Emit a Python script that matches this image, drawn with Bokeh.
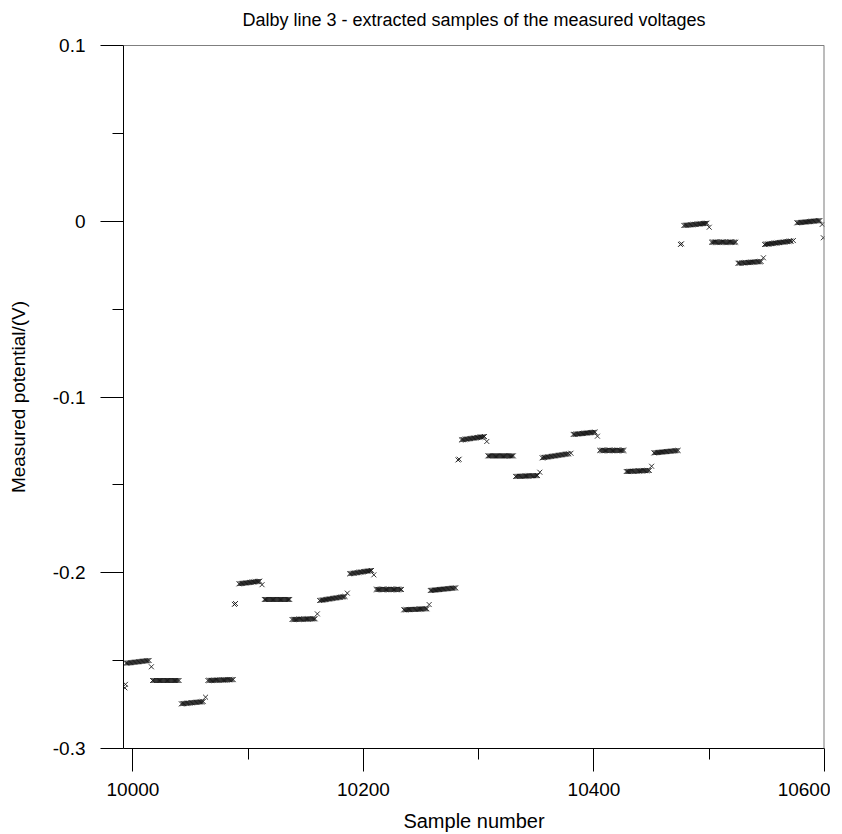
from bokeh.plotting import figure
from bokeh.models import FixedTicker, Range1d, Span, ColumnDataSource, Title
from bokeh.embed import file_html
from bokeh.resources import INLINE

# Plateau segments: first sample, last sample, level at start, level at end (V)
seg_start = [9994, 10017, 10042, 10065,
             10092, 10114, 10138, 10162, 10188, 10211, 10235, 10258,
             10285, 10308, 10332, 10355, 10382, 10405, 10428, 10452,
             10478, 10502, 10525, 10548, 10576]
seg_end = [10014, 10040, 10061, 10087,
           10110, 10136, 10158, 10184, 10207, 10233, 10255, 10280,
           10305, 10330, 10351, 10378, 10401, 10426, 10448, 10473,
           10498, 10523, 10545, 10571, 10596]
level_start = [-0.2515, -0.2613, -0.2746, -0.2613,
               -0.2063, -0.2152, -0.2266, -0.2158, -0.2006, -0.2095, -0.2211, -0.2101,
               -0.1244, -0.1335, -0.1452, -0.1346, -0.1213, -0.1304, -0.1424, -0.1318,
               -0.0024, -0.0119, -0.0239, -0.0132, -0.0009]
level_end = [-0.2499, -0.2613, -0.2733, -0.2608,
             -0.2048, -0.2152, -0.2262, -0.2135, -0.1987, -0.2095, -0.2205, -0.2086,
             -0.1225, -0.1335, -0.1447, -0.1323, -0.1200, -0.1304, -0.1418, -0.1304,
             -0.0011, -0.0119, -0.0229, -0.0113, 0.0004]

# Isolated samples (transition samples and single points between groups)
single_x = [9993, 9993.5, 10016, 10063,
            10088, 10089, 10112, 10160, 10186, 10209, 10257,
            10282, 10283, 10307, 10353, 10380, 10403, 10450,
            10475, 10476, 10500, 10547, 10573, 10598, 10599]
single_y = [-0.2655, -0.2635, -0.2535, -0.2708,
            -0.2180, -0.2175, -0.2068, -0.2234, -0.2116, -0.2012, -0.2181,
            -0.1358, -0.1354, -0.1253, -0.1428, -0.1320, -0.1223, -0.1394,
            -0.0132, -0.0128, -0.0034, -0.0208, -0.0110, -0.0018, -0.0094]

x_ticks = [10000, 10200, 10400, 10600]
x_minor = [10100, 10300, 10500]
y_ticks = [-0.3, -0.2, -0.1, 0.0, 0.1]
y_minor = [-0.25, -0.15, -0.05, 0.05]
y_labels = ["-0.3", "-0.2", "-0.1", "0", "0.1"]

xs, ys = [], []
for s0, s1, v0, v1 in zip(seg_start, seg_end, level_start, level_end):
    n = s1 - s0
    for k in range(n + 1):
        xs.append(s0 + k)
        ys.append(v0 + (v1 - v0) * k / n)
xs += single_x
ys += single_y
src = ColumnDataSource(dict(x=xs, y=ys))

FONT = "Liberation Sans"
W, H = 830, 834

p = figure(width=W, height=H, output_backend="svg", toolbar_location=None,
           x_range=Range1d(9991.8, 10600), y_range=Range1d(-0.3, 0.1),
           min_border_left=123, min_border_right=6, min_border_top=45, min_border_bottom=86,
           title="Dalby line 3 - extracted samples of the measured voltages")
p.title.text_font = FONT
p.title.text_font_size = "18px"
p.title.text_font_style = "normal"
p.title.text_color = "black"
p.title.align = "center"
p.title.standoff = 0
# blank spacer between the title and the frame
p.add_layout(Title(text=" ", text_font=FONT, text_font_size="12px", standoff=0), "above")
p.grid.visible = False
p.outline_line_color = None
p.background_fill_color = "white"
p.border_fill_color = "white"

p.scatter("x", "y", source=src, marker="x", size=7, line_color="#111111",
          line_width=1, line_alpha=0.85)

p.add_layout(Span(location=0.1, dimension="width", line_color="black", line_width=1))
p.add_layout(Span(location=10600, dimension="height", line_color="#7a7a7a", line_width=2))

for ax in (p.xaxis[0], p.yaxis[0]):
    ax.axis_line_color = "black"
    ax.major_tick_line_color = "black"
    ax.minor_tick_line_color = "black"
    ax.major_tick_in = 0
    ax.minor_tick_in = 0
    ax.major_tick_out = 23
    ax.minor_tick_out = 11
    ax.major_label_text_font = FONT
    ax.major_label_text_font_size = "19px"
    ax.major_label_text_color = "black"
    ax.axis_label_text_font = FONT
    ax.axis_label_text_font_size = "19px"
    ax.axis_label_text_font_style = "normal"
    ax.axis_label_text_color = "black"

p.xaxis.ticker = FixedTicker(ticks=x_ticks, minor_ticks=x_minor)
p.xaxis.major_label_overrides = {t: str(t) for t in x_ticks}
p.xaxis.major_label_standoff = 11
p.xaxis.axis_label = "Sample number"
p.xaxis.axis_label_text_font_size = "20px"
p.xaxis.axis_label_standoff = 11

p.yaxis.ticker = FixedTicker(ticks=y_ticks, minor_ticks=y_minor)
p.yaxis.major_label_overrides = {t: l for t, l in zip(y_ticks, y_labels)}
p.yaxis.axis_label = "Measured potential/(V)"
p.yaxis.major_label_standoff = 15
p.yaxis.axis_label_standoff = 21

open("out.html", "w").write(file_html(p, INLINE))
